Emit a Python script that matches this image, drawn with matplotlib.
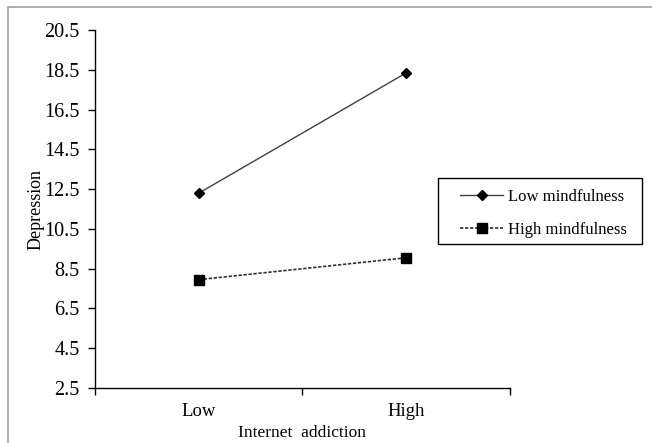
import matplotlib.pyplot as plt
import numpy as np
from matplotlib.patches import Rectangle

plt.rcParams['font.family'] = ['Liberation Serif', 'DejaVu Serif']

# data
groups = ["Low", "High"]
low_mindfulness = [12.3, 18.35]
high_mindfulness = [7.95, 9.05]
yticks = np.arange(2.5, 20.6, 2.0)

fig = plt.figure(figsize=(6.52, 4.43), dpi=100)
ax = fig.add_axes([0.1457, 0.1242, 0.6365, 0.8078])

# outer grey frame around the picture
fig.patches.append(Rectangle((0.012, -0.01), 1.0, 0.995, transform=fig.transFigure,
                             fill=False, edgecolor="#a0a0a0", linewidth=1.2))

x = np.arange(len(groups))
ax.plot(x, low_mindfulness, color="#404040", linewidth=1.0, marker="D",
        markersize=5, markerfacecolor="black", markeredgecolor="black",
        label="Low mindfulness")
ax.plot(x, high_mindfulness, color="#303030", linewidth=1.2, linestyle=(0, (2, 1)),
        marker="s", markersize=7, markerfacecolor="black", markeredgecolor="black",
        label="High mindfulness")

ax.set_xlim(-0.5, 1.5)
ax.set_ylim(2.5, 20.5)
ax.set_yticks(yticks)
ax.set_yticklabels([f"{v:.1f}" for v in yticks], fontsize=14.5)

# category axis: ticks at the boundaries, labels centred
ax.set_xticks([-0.5, 0.5, 1.5])
ax.set_xticklabels([])
ax.set_xticks(x, minor=True)
ax.set_xticklabels(groups, minor=True, fontsize=13.5)
ax.tick_params(axis="x", which="minor", length=0, pad=11)
ax.tick_params(axis="x", which="major", length=5, width=1, direction="out")
ax.tick_params(axis="y", length=5, width=1, direction="out", pad=6)

ax.set_xlabel("Internet  addiction", fontsize=12.5, labelpad=3.5)
ax.set_ylabel("Depression", fontsize=13, labelpad=0)

for spine in ["top", "right"]:
    ax.spines[spine].set_visible(False)
for spine in ["left", "bottom"]:
    ax.spines[spine].set_linewidth(1.0)

# legend without its own frame, boxed by a rectangle
leg = fig.legend(*ax.get_legend_handles_labels(), loc="upper left",
                 bbox_to_anchor=(455 / 652, 1 - 184 / 443), frameon=False,
                 fontsize=12, numpoints=1, handlelength=2.6, handletextpad=0.3,
                 borderpad=0.3, labelspacing=1.0, borderaxespad=0)
fig.patches.append(Rectangle((438 / 652, 1 - 244 / 443), 204 / 652, 66 / 443,
                             transform=fig.transFigure, fill=False,
                             edgecolor="black", linewidth=1.0))

fig.savefig("out.png", dpi=100)
